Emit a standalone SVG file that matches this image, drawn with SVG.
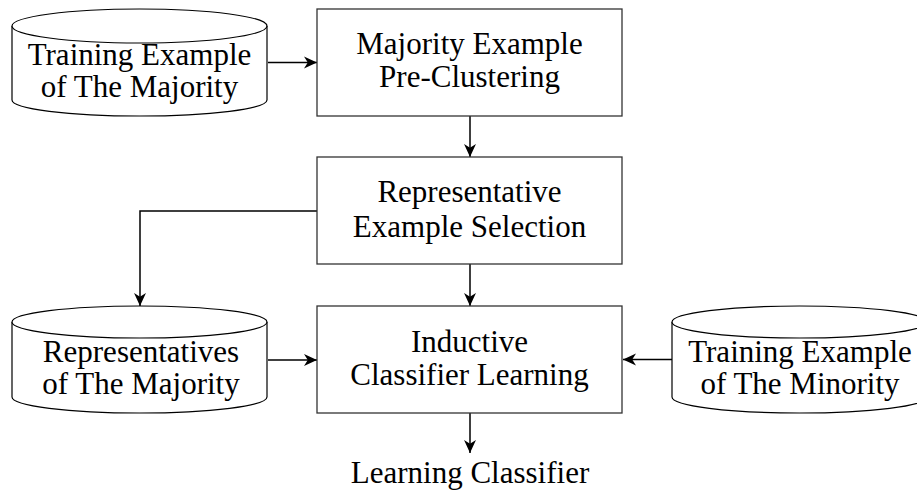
<svg xmlns="http://www.w3.org/2000/svg" width="917" height="495" viewBox="0 0 917 495">
<style>
.box{fill:#fff;stroke:#333;stroke-width:1.3}
.cyl{fill:#fff;stroke:#000;stroke-width:1.2}
.t{font-family:"Liberation Serif","Times New Roman",serif;font-size:31px;fill:#000;text-anchor:middle}
.c{fill:none;stroke:#000;stroke-width:1.5}
</style>
<defs>
<marker id="ah" viewBox="0 0 12 12" markerWidth="13" markerHeight="13" refX="12" refY="6" orient="auto" markerUnits="userSpaceOnUse">
<path d="M0,0.5 L12,6 L0,11.5 L3.5,6 z" fill="#000"/>
</marker>
</defs>
<g id="connectors">
<line class="c" x1="268" y1="62.5" x2="317" y2="62.5" marker-end="url(#ah)"/>
<line class="c" x1="470" y1="116" x2="470" y2="157" marker-end="url(#ah)"/>
<line class="c" x1="470" y1="264" x2="470" y2="306" marker-end="url(#ah)"/>
<polyline class="c" points="317,211 140,211 140,306" marker-end="url(#ah)"/>
<line class="c" x1="268" y1="360" x2="317" y2="360" marker-end="url(#ah)"/>
<line class="c" x1="672" y1="359.5" x2="623" y2="359.5" marker-end="url(#ah)"/>
<line class="c" x1="470" y1="413" x2="470" y2="453" marker-end="url(#ah)"/>
</g>
<g id="train-majority">
<path class="cyl" d="M12,26 L12,100 A127.5,16 0 0 0 267,100 L267,26"/>
<ellipse class="cyl" cx="139.5" cy="26" rx="127.5" ry="17"/>
<text class="t" x="139.5" y="65">Training Example</text>
<text class="t" x="139.5" y="97">of The Majority</text>
</g>
<g id="pre-clustering">
<rect class="box" x="317" y="9" width="305" height="107"/>
<text class="t" x="469.5" y="54">Majority Example</text>
<text class="t" x="469.5" y="87">Pre-Clustering</text>
</g>
<g id="selection">
<rect class="box" x="317" y="157" width="305" height="107"/>
<text class="t" x="469.5" y="202">Representative</text>
<text class="t" x="469.5" y="237">Example Selection</text>
</g>
<g id="representatives">
<path class="cyl" d="M12,322 L12,397 A127.5,16 0 0 0 267,397 L267,322"/>
<ellipse class="cyl" cx="139.5" cy="322" rx="127.5" ry="16"/>
<text class="t" x="141" y="362">Representatives</text>
<text class="t" x="141" y="394">of The Majority</text>
</g>
<g id="inductive">
<rect class="box" x="317" y="306" width="305" height="107"/>
<text class="t" x="469.5" y="352">Inductive</text>
<text class="t" x="469.5" y="385">Classifier Learning</text>
</g>
<g id="train-minority">
<path class="cyl" d="M672,322 L672,397 A127.5,16 0 0 0 927,397 L927,322"/>
<ellipse class="cyl" cx="799.5" cy="322" rx="127.5" ry="16"/>
<text class="t" x="800" y="362">Training Example</text>
<text class="t" x="800" y="394">of The Minority</text>
</g>
<g id="output">
<text class="t" x="470" y="483">Learning Classifier</text>
</g>
</svg>
